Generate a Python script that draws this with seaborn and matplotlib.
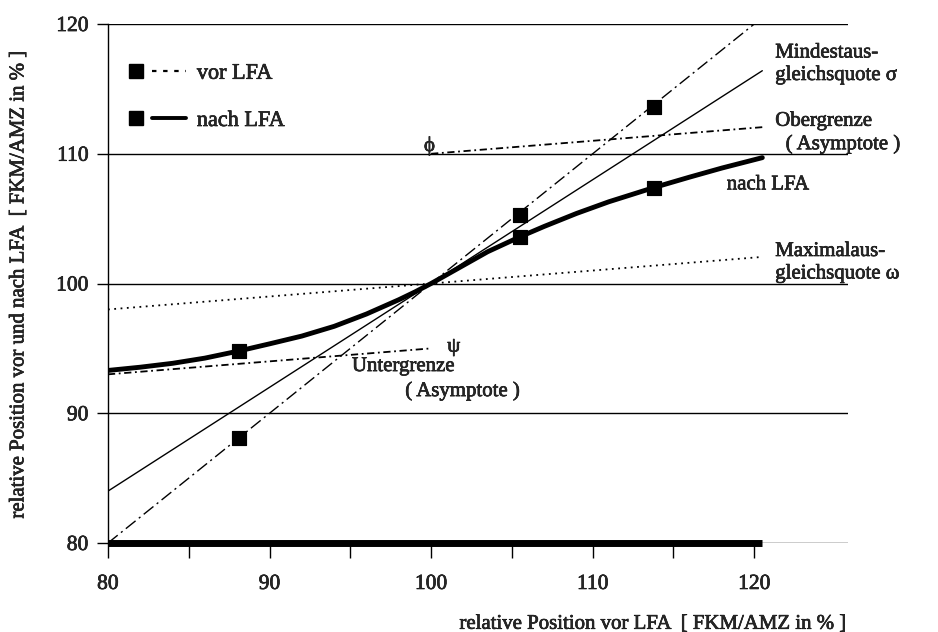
import numpy as np
import pandas as pd
import matplotlib
matplotlib.use("Agg")
import matplotlib.pyplot as plt
import matplotlib.patheffects as pe
import seaborn as sns
from matplotlib.lines import Line2D
from matplotlib.legend_handler import HandlerTuple

# values
sample_x = [88.1, 105.5, 113.8]
vor_lfa = [88.1, 105.3, 113.6]
nach_lfa = [94.8, 103.6, 107.4]

curve_x = [80, 82, 84, 86, 88.1, 90, 92, 94, 96, 98, 99, 100, 101, 102, 103.5,
           105.5, 107, 109, 111, 113.8, 116, 118, 120.5]
curve_y = [93.3, 93.55, 93.85, 94.25, 94.8, 95.35, 95.95, 96.7, 97.65, 98.75, 99.35,
           100.0, 100.7, 101.4, 102.45, 103.6, 104.4, 105.4, 106.3, 107.4, 108.2,
           108.9, 109.7]

diag_x = [80, 120]          # 45-degree line (vor = nach)
diag_y = [80, 120]
sigma_x = [80, 120.5]       # Mindestausgleichsquote
sigma_y = [84, 116.4]
omega_x = [80, 120.5]       # Maximalausgleichsquote
omega_y = [98, 102.05]
phi_x = [100, 120.5]        # Obergrenze
phi_y = [110, 112.05]
psi_x = [80, 100]           # Untergrenze
psi_y = [93, 95]

sns.set_style("white")
plt.rcParams['font.family'] = ['Liberation Serif', 'DejaVu Serif']
bold_fx = [pe.withStroke(linewidth=0.45, foreground='black')]

fig = plt.figure(figsize=(9.38, 6.32), dpi=100)
ax = fig.add_axes([0.1151, 0.1408, 0.7889, 0.8212])

k = 'black'
sns.lineplot(x=diag_x, y=diag_y, ax=ax, color=k, lw=1.0)
ax.lines[-1].set_dashes([9, 3, 1.5, 3])
sns.lineplot(x=sigma_x, y=sigma_y, ax=ax, color=k, lw=1.0)
sns.lineplot(x=omega_x, y=omega_y, ax=ax, color=k, lw=1.3)
ax.lines[-1].set_linestyle((0, (1, 2.5)))
sns.lineplot(x=phi_x, y=phi_y, ax=ax, color=k, lw=1.3)
ax.lines[-1].set_dashes([4, 2, 1, 2])
sns.lineplot(x=psi_x, y=psi_y, ax=ax, color=k, lw=1.3)
ax.lines[-1].set_dashes([4, 2, 1, 2])
sns.lineplot(x=curve_x, y=curve_y, ax=ax, color=k, lw=3.5, sort=False)
ax.lines[-1].set_solid_joinstyle('round')

sns.scatterplot(x=sample_x, y=vor_lfa, ax=ax, marker='s', s=110, color=k, edgecolor=k, zorder=5)
sns.scatterplot(x=sample_x, y=nach_lfa, ax=ax, marker='s', s=110, color=k, edgecolor=k, zorder=5)

# heavy base line of the x axis
ax.hlines(80, 80, max(curve_x), color=k, lw=5, clip_on=False, zorder=4)

ax.set_xlim(80, 125.8)
ax.set_ylim(80, 120)
ax.set_xticks([80, 90, 100, 110, 120])
ax.set_xticks([85, 95, 105, 115], minor=True)
ax.set_yticks([80, 90, 100, 110, 120])
ax.yaxis.grid(True, color=k, lw=1.0)
ax.xaxis.grid(False)
for s in ['top', 'right', 'bottom']:
    ax.spines[s].set_visible(False)
ax.spines['left'].set_color(k)
ax.spines['left'].set_linewidth(1.0)
ax.tick_params(axis='x', which='both', direction='out', length=11, width=1.0,
               color=k, pad=12, labelsize=15.5, bottom=True)
ax.tick_params(axis='y', direction='out', length=8, width=1.0, color=k,
               pad=6, labelsize=15.5, left=True)
for t in ax.get_xticklabels() + ax.get_yticklabels():
    t.set_path_effects(bold_fx)

ax.set_xlabel("relative Position vor LFA  [ FKM/AMZ in % ]", fontsize=15,
              ha='right', x=1.0, labelpad=15, path_effects=bold_fx)
ax.set_ylabel("relative Position vor und nach LFA  [ FKM/AMZ in % ]", fontsize=15,
              labelpad=20, path_effects=bold_fx)

fs = 15
notes = [
    (121.3, 116.9, "Mindestaus-\ngleichsquote σ", 'left'),
    (121.3, 111.6, "Obergrenze\n  ( Asymptote )", 'left'),
    (121.3, 101.6, "Maximalaus-\ngleichsquote ω", 'left'),
]
for x, y, s, ha in notes:
    ax.text(x, y, s, fontsize=fs, ha=ha, va='center', linespacing=1.25, path_effects=bold_fx)
ax.text(99.9, 110.6, "ϕ", fontsize=fs, ha='center', va='center', path_effects=bold_fx)
ax.text(118.3, 107.6, "nach LFA", fontsize=fs, va='center', path_effects=bold_fx)
ax.text(101.4, 95.1, "ψ", fontsize=fs, ha='center', va='center', path_effects=bold_fx)
ax.text(95.1, 93.6, "Untergrenze", fontsize=fs, va='center', path_effects=bold_fx)
ax.text(98.4, 91.7, "( Asymptote )", fontsize=fs, va='center', path_effects=bold_fx)

h_vor = (Line2D([], [], marker='s', ms=10, color=k, ls='none'),
         Line2D([], [], color=k, lw=1.6, ls=(0, (2, 3))))
h_nach = (Line2D([], [], marker='s', ms=10, color=k, ls='none'),
          Line2D([], [], color=k, lw=2.8))
leg = ax.legend([h_vor, h_nach], ["vor LFA", "nach LFA"],
                handler_map={tuple: HandlerTuple(ndivide=2, pad=0)},
                loc='upper left', bbox_to_anchor=(-0.012, 0.963), frameon=False,
                fontsize=16, handlelength=3.0, labelspacing=1.2, handletextpad=0.5)
for t in leg.get_texts():
    t.set_path_effects(bold_fx)

fig.savefig("out.png", dpi=100)
